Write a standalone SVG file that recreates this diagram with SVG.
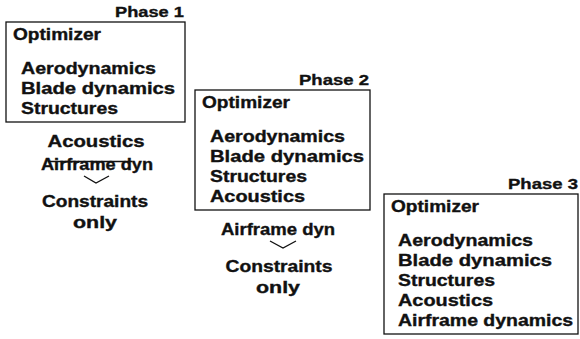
<svg xmlns="http://www.w3.org/2000/svg" width="580" height="339" viewBox="0 0 580 339">
<style>
text{font-family:"Liberation Sans",Arial,sans-serif;font-weight:700;font-size:16px;fill:#111;stroke:#111;stroke-width:0.35}
.ph{font-size:15px}
.c{text-anchor:middle}
.e{text-anchor:end}
.box{fill:none;stroke:#111;stroke-width:1.3}
.chev{fill:none;stroke:#111;stroke-width:1.4}
</style>
<rect width="580" height="339" fill="#fff"/>
<g id="phase1">
<text class="ph e" x="184" y="17" textLength="69" lengthAdjust="spacingAndGlyphs">Phase 1</text>
<rect class="box" x="6" y="22" width="179" height="100"/>
<text x="13" y="40" textLength="88" lengthAdjust="spacingAndGlyphs">Optimizer</text>
<text x="21" y="74" textLength="135" lengthAdjust="spacingAndGlyphs">Aerodynamics</text>
<text x="21" y="94" textLength="154" lengthAdjust="spacingAndGlyphs">Blade dynamics</text>
<text x="21" y="114" textLength="97" lengthAdjust="spacingAndGlyphs">Structures</text>
</g>
<g id="phase1-outside">
<text class="c" x="96" y="147" textLength="97" lengthAdjust="spacingAndGlyphs">Acoustics</text>
<text class="c" x="97" y="170" textLength="112" lengthAdjust="spacingAndGlyphs">Airframe dyn</text>
<line x1="48" y1="161.5" x2="132" y2="161.5" stroke="#111" stroke-width="1.5"/>
<text class="c" x="95" y="207" textLength="106" lengthAdjust="spacingAndGlyphs">Constraints</text>
<text class="c" x="95" y="228" textLength="44" lengthAdjust="spacingAndGlyphs">only</text>
</g>
<g id="phase2">
<text class="ph e" x="369" y="85" textLength="70" lengthAdjust="spacingAndGlyphs">Phase 2</text>
<rect class="box" x="195" y="90" width="175" height="120"/>
<text x="202" y="108" textLength="88" lengthAdjust="spacingAndGlyphs">Optimizer</text>
<text x="210" y="142" textLength="135" lengthAdjust="spacingAndGlyphs">Aerodynamics</text>
<text x="210" y="162" textLength="154" lengthAdjust="spacingAndGlyphs">Blade dynamics</text>
<text x="210" y="182" textLength="97" lengthAdjust="spacingAndGlyphs">Structures</text>
<text x="210" y="202" textLength="95" lengthAdjust="spacingAndGlyphs">Acoustics</text>
</g>
<g id="phase2-outside">
<text class="c" x="278" y="235" textLength="114" lengthAdjust="spacingAndGlyphs">Airframe dyn</text>
<text class="c" x="279" y="272" textLength="107" lengthAdjust="spacingAndGlyphs">Constraints</text>
<text class="c" x="278" y="293" textLength="44" lengthAdjust="spacingAndGlyphs">only</text>
</g>
<g id="phase3">
<text class="ph e" x="578" y="189" textLength="70" lengthAdjust="spacingAndGlyphs">Phase 3</text>
<rect class="box" x="384" y="194" width="194" height="140"/>
<text x="391" y="212" textLength="88" lengthAdjust="spacingAndGlyphs">Optimizer</text>
<text x="398" y="246" textLength="135" lengthAdjust="spacingAndGlyphs">Aerodynamics</text>
<text x="398" y="266" textLength="154" lengthAdjust="spacingAndGlyphs">Blade dynamics</text>
<text x="398" y="286" textLength="97" lengthAdjust="spacingAndGlyphs">Structures</text>
<text x="398" y="306" textLength="95" lengthAdjust="spacingAndGlyphs">Acoustics</text>
<text x="398" y="326" textLength="175" lengthAdjust="spacingAndGlyphs">Airframe dynamics</text>
</g>
<g id="connectors">
<polyline class="chev" points="84,176 96,183 109,176"/>
<polyline class="chev" points="270,241 283,248 296,241"/>
</g>
</svg>
